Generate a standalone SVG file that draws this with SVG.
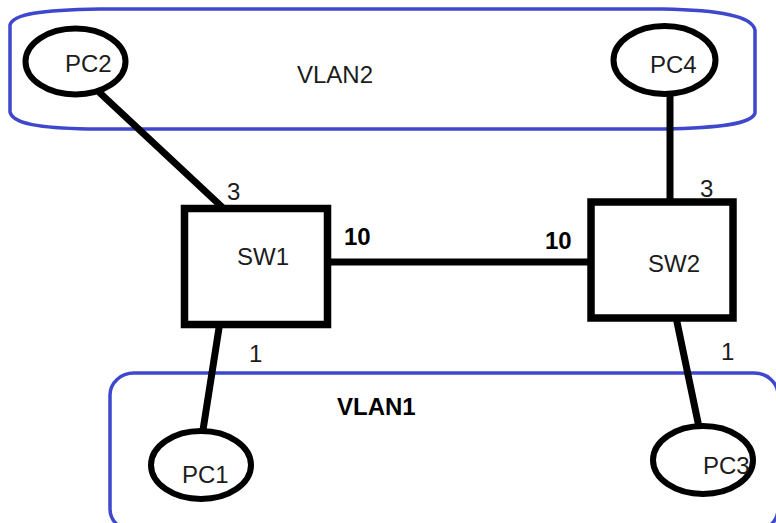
<svg xmlns="http://www.w3.org/2000/svg" width="776" height="523" viewBox="0 0 776 523">
<style>
.vlan{fill:none;stroke:#3f48cc;stroke-width:3.5}
.pc{fill:#fff;stroke:#000;stroke-width:6}
.sw{fill:#fff;stroke:#000;stroke-width:7.5}
.ln{stroke:#000;stroke-width:7;stroke-linecap:round;fill:none}
.t{font-family:"Liberation Sans",Arial,sans-serif;font-size:24px;fill:#1c1c1c}
.b{font-family:"Liberation Sans",Arial,sans-serif;font-size:24px;font-weight:bold;fill:#000}
</style>
<rect width="776" height="523" fill="#fff"/>
<g id="vlan2">
<path class="vlan" d="M100,9 H663 C720,10 752,16 755,30 V113 C752,124 720,128 663,129 H88 C40,128 13,124 10,112 V25 C13,14 40,10 100,9 Z"/>
<text class="t" x="297" y="83" font-size="25">VLAN2</text>
</g>
<g id="vlan1">
<rect class="vlan" x="110" y="373" width="668" height="158" rx="24" ry="22"/>
<text class="b" x="337" y="415" font-size="25">VLAN1</text>
</g>
<g id="connectors">
<line class="ln" x1="100" y1="93" x2="222" y2="207"/>
<line class="ln" x1="219" y1="328" x2="203" y2="430"/>
<line class="ln" x1="331" y1="262" x2="597" y2="262"/>
<line class="ln" x1="670" y1="97" x2="670" y2="210"/>
<line class="ln" x1="677" y1="322" x2="700" y2="432"/>
</g>
<g id="pc2">
<ellipse class="pc" cx="75.5" cy="61.5" rx="50" ry="33"/>
<text class="t" x="65" y="72">PC2</text>
</g>
<g id="pc4">
<ellipse class="pc" cx="664.5" cy="60" rx="51" ry="34"/>
<text class="t" x="650" y="73">PC4</text>
</g>
<g id="pc1">
<ellipse class="pc" cx="201" cy="465" rx="50" ry="34"/>
<text class="t" x="182" y="483">PC1</text>
</g>
<g id="pc3">
<ellipse class="pc" cx="703" cy="460" rx="50" ry="34"/>
<text class="t" x="703" y="474">PC3</text>
</g>
<g id="sw1">
<rect class="sw" x="184.5" y="208.5" width="143" height="116"/>
<text class="t" x="237" y="265">SW1</text>
</g>
<g id="sw2">
<rect class="sw" x="591" y="202" width="142" height="116"/>
<text class="t" x="648" y="272">SW2</text>
</g>
<g id="labels">
<text class="t" x="227" y="200">3</text>
<text class="t" x="700" y="197">3</text>
<text class="t" x="249" y="362">1</text>
<text class="t" x="721" y="360">1</text>
<text class="b" x="344" y="245">10</text>
<text class="b" x="545" y="249">10</text>
</g>
</svg>
